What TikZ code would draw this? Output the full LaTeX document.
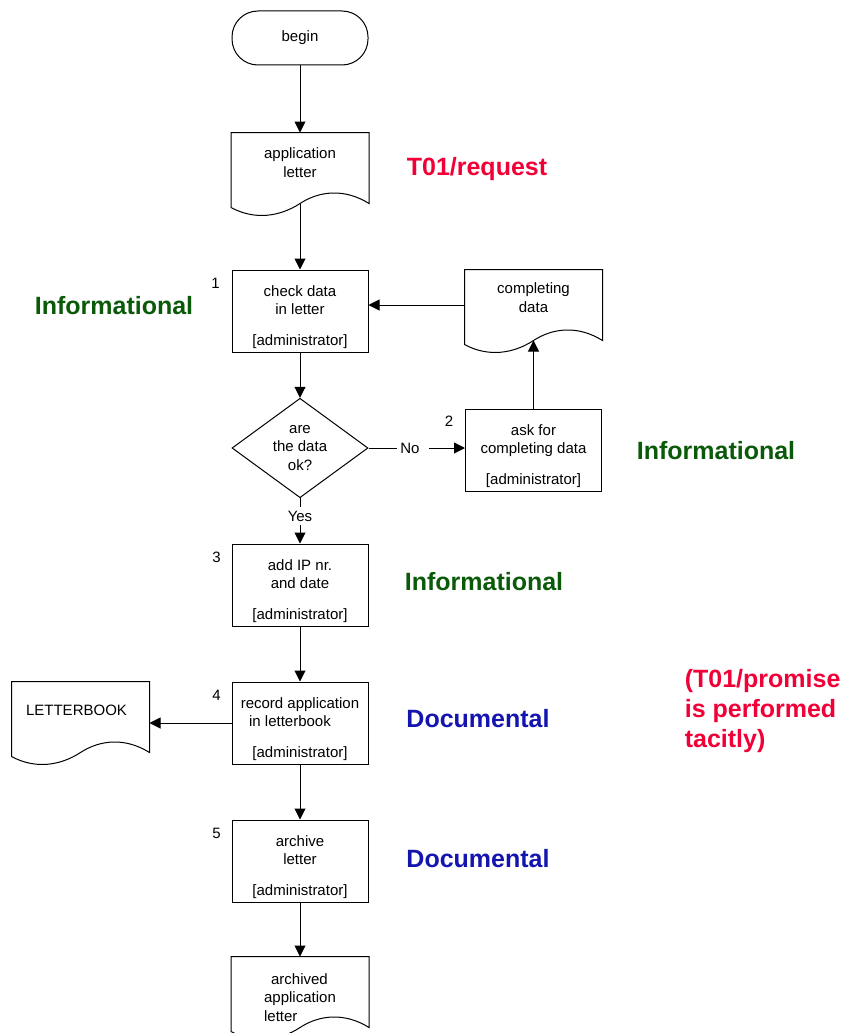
\documentclass[tikz,border=0pt]{standalone}
\usepackage{fontspec}
\setmainfont{Liberation Sans}
\usetikzlibrary{calc, positioning, arrows.meta, shapes.geometric}

\definecolor{infogreen}{RGB}{10,90,10}
\definecolor{docblue}{RGB}{20,20,175}
\definecolor{actred}{RGB}{240,0,55}

% extra room above the first line of an activity box
\newcommand{\actstrut}{\rule{0pt}{23pt}}

\begin{document}
\begin{tikzpicture}[x=1pt, y=-1pt, line width=1pt,
      every node/.style={font=\fontsize{15}{18.5}\selectfont},
      act/.style ={draw, minimum width=136pt, minimum height=82pt, align=center, inner sep=2pt},
      term/.style={draw, rounded corners=26pt, minimum width=136pt, minimum height=54pt},
      doc/.style ={minimum width=137pt, minimum height=70pt, inner sep=0pt, align=center},
      test/.style={draw, diamond, minimum width=136pt, minimum height=80pt,
                   inner sep=0pt, align=center},
      kind/.style={font=\fontsize{25}{30}\selectfont\bfseries},
      >={Triangle[length=11pt, width=11pt]}
    ]
    \useasboundingbox (0,0) rectangle (858,1033);

    % main column
    \node[term] (begin) at (300,38)  {begin};
    \node[doc]  (appl)  at (300,168) {application\\letter\rule[-11pt]{0pt}{0pt}};
    \node[act]  (check) at (300,311) {\actstrut check data\\in letter\\[12pt][administrator]};
    \node[test] (ok)    at (300,448) {are\\the data\\ok?};
    \node       (yes)   at (300,516) {Yes};
    \node[act]  (addip) at (300,585) {\actstrut add IP nr.\\and date\\[12pt][administrator]};
    \node[act]  (rec)   at (300,723) {\actstrut record application\\\mbox{in letterbook\hspace{20pt}}\\[12pt][administrator]};
    \node[act]  (arch)  at (300,861) {\actstrut archive\\letter\\[12pt][administrator]};
    \node[doc, align=left] (archd) at (300,992) {\rule{0pt}{22pt}\hspace*{7pt}archived\\application\\letter};

    % side column
    \node[doc]  (compl) at (533.5,305) {completing\\data\rule[-15pt]{0pt}{0pt}};
    \node       (no)    at (410,448)   {No};
    \node[act]  (ask)   at (533.5,450) {\actstrut ask for\\completing data\\[12pt][administrator]};
    \node[doc]  (lbook) at (80.5,717)  {\mbox{LETTERBOOK\hspace{8pt}}\rule[-14pt]{0pt}{0pt}};

    % step numbers
    \node (n1) at ([xshift=-16pt, yshift=-14pt]check.north west) {1};
    \node (n2) at ([xshift=-16pt, yshift=-13pt]ask.north west)   {2};
    \node (n3) at ([xshift=-15pt, yshift=-14pt]addip.north west) {3};
    \node (n4) at ([xshift=-15pt, yshift=-14pt]rec.north west)   {4};
    \node (n5) at ([xshift=-15pt, yshift=-14pt]arch.north west)  {5};

    % document outlines with wavy bottom
    \foreach \docname in {appl, compl, lbook, archd}
      \draw ($(\docname.south west)+(0,4)$) |- (\docname.north east) -- (\docname.south east)
        .. controls ($(\docname.south)+(45,-15)$) and ($(\docname.south)+(20,-13)$) .. (\docname.south)
        .. controls ($(\docname.south)+(-20,13)$) and ($(\docname.south)+(-45,17)$) .. ($(\docname.south west)+(0,4)$)
        -- cycle;

    % connectors
    \draw[->] (begin) -- (appl.north);
    \draw[->] (appl.south) -- (check);
    \draw[->] (check) -- (ok);
    \draw (ok.east) -- (no.west);
    \draw[->] ([xshift=6pt]no.east) -- (no.east -| ask.west);
    \draw[->] (ask.north) -- (compl.south);
    \draw[->] (compl.west) -- (compl.west -| check.east);
    \draw (ok.south) -- (yes.north);
    \draw[->] (yes.south) -- (addip.north);
    \draw[->] (addip) -- (rec);
    \draw[->] (rec.west) -- (rec.west -| lbook.east);
    \draw[->] (rec) -- (arch);
    \draw[->] (arch.south) -- (archd.north);

    % transaction kinds
    \node[kind, text=actred]    (req)  at (477,169) {T01/request};
    \node[kind, text=infogreen] (inf1) at (114,306) {Informational};
    \node[kind, text=infogreen] (inf2) at (716,451) {Informational};
    \node[kind, text=infogreen] (inf3) at (484,582) {Informational};
    \node[kind, text=docblue]   (doc1) at (478,719) {Documental};
    \node[kind, text=docblue]   (doc2) at (478,859) {Documental};
    \node[kind, text=actred, align=left, anchor=west] (prom) at (681,711)
      {(T01/promise\\is performed\\tacitly)};
  \end{tikzpicture}
\end{document}
